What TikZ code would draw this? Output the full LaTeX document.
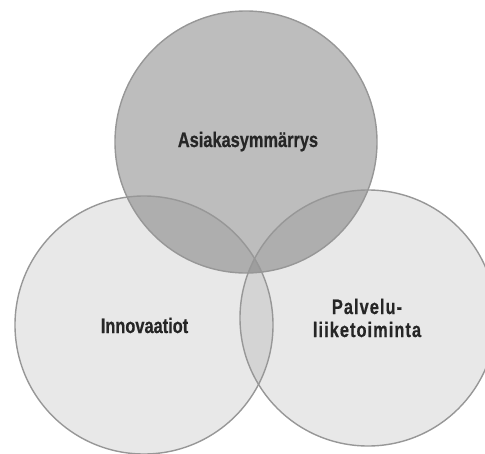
\documentclass[tikz,border=0pt]{standalone}
\usepackage{fontspec}
\setmainfont{Liberation Sans}[FakeStretch=0.78,FakeBold=0.6]
\definecolor{lightfill}{HTML}{E8E8E8}
\definecolor{topfill}{HTML}{BDBDBD}
\definecolor{lensfill}{HTML}{D4D4D4}
\definecolor{tlfill}{HTML}{AEAEAE}
\definecolor{trifill}{HTML}{9E9E9E}
\definecolor{edge}{HTML}{979797}
\begin{document}
\begin{tikzpicture}[x=1pt,y=-1pt,
  lbl/.style={font=\bfseries\fontsize{21}{23}\selectfont, text=black!85, align=center, inner sep=0pt},
  ring/.style={draw=edge, line width=1.4pt}]
\useasboundingbox (0,0) rectangle (485,453);
\clip (0,0) rectangle (485,453);
\coordinate (T) at (246,142);
\coordinate (L) at (144,325);
\coordinate (R) at (368,318);
\def\rT{131pt}\def\rL{129pt}\def\rR{128pt}
% base fills
\fill[lightfill] (L) circle[radius=\rL];
\fill[lightfill] (R) circle[radius=\rR];
\fill[topfill] (T) circle[radius=\rT];
% overlaps
\begin{scope}
  \clip (L) circle[radius=\rL];
  \fill[lensfill] (R) circle[radius=\rR];
  \fill[tlfill] (T) circle[radius=\rT];
  \clip (R) circle[radius=\rR];
  \fill[trifill] (T) circle[radius=\rT];
\end{scope}
\begin{scope}
  \clip (R) circle[radius=\rR];
  \clip (T) circle[radius=\rT];
  \fill[tlfill] (L) circle[radius=\rL];
  \fill[tlfill] (R) circle[radius=\rR];
  \clip (L) circle[radius=\rL];
  \fill[trifill] (R) circle[radius=\rR];
\end{scope}
% outlines
\draw[ring] (L) circle[radius=\rL];
\draw[ring] (R) circle[radius=\rR];
\draw[ring] (T) circle[radius=\rT];
% labels
\node[lbl, anchor=base] (tA) at (248,147) {Asiakasymmärrys};
\node[lbl, anchor=base] (tI) at (144.5,333) {Innovaatiot};
\node[lbl, font=\bfseries\fontsize{21}{23}\selectfont\addfontfeature{LetterSpace=5}] (tP) at (367,318) {Palvelu-\\liiketoiminta};
\end{tikzpicture}
\end{document}
